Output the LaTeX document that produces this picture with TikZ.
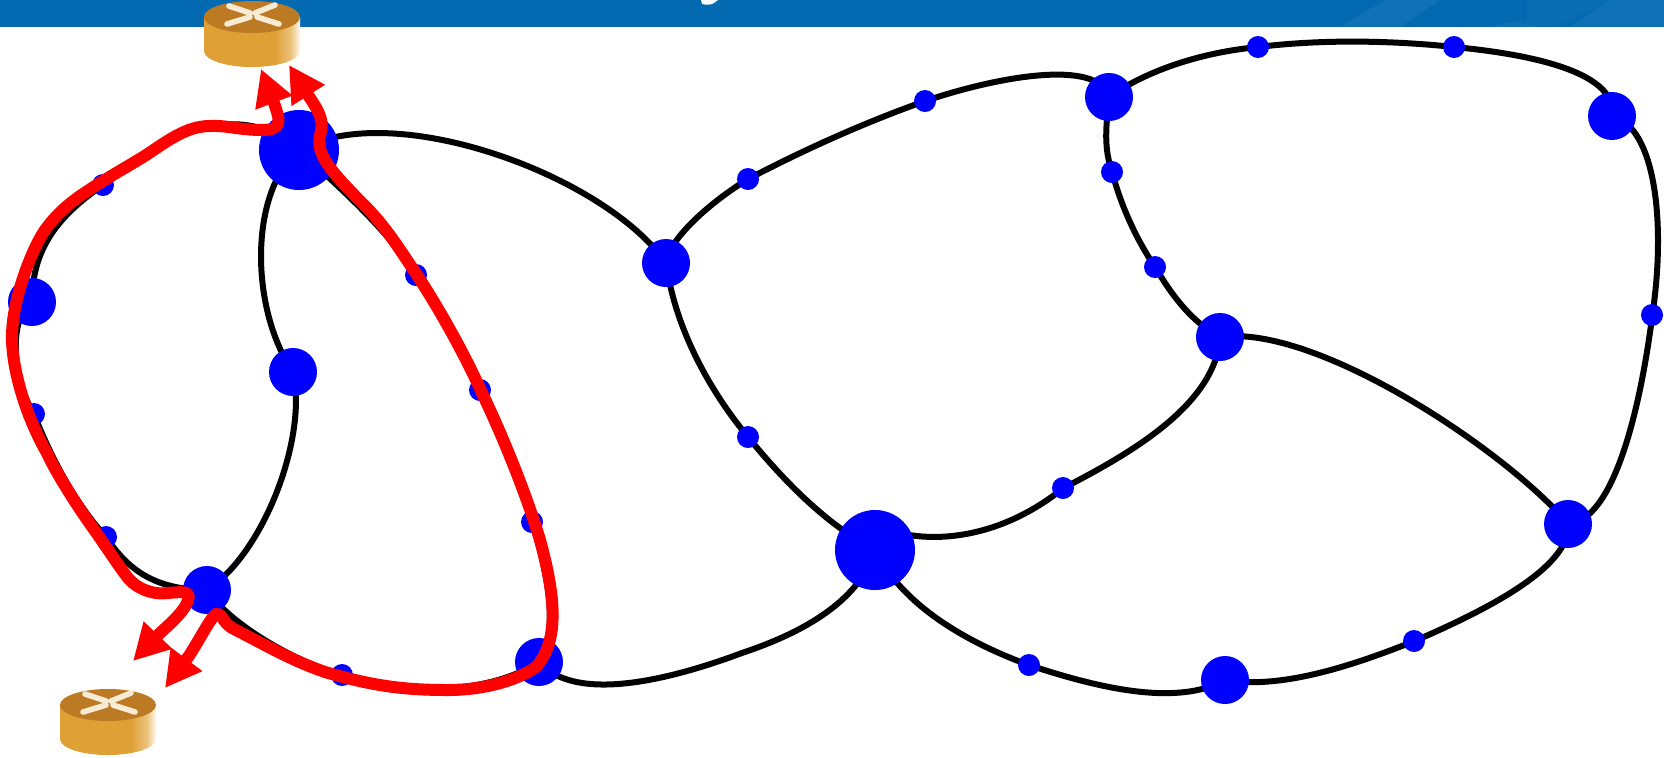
\documentclass[tikz,border=0pt]{standalone}
\usetikzlibrary{arrows.meta}
\definecolor{rside}{HTML}{DFA036}
\definecolor{rmid}{HTML}{EBC27A}
\definecolor{rlight}{HTML}{FFF9EC}
\definecolor{rtop}{HTML}{BC7A24}
\definecolor{rcream}{HTML}{F8EBD4}
\definecolor{band}{HTML}{0369B1}
\definecolor{streak}{HTML}{2F86C4}
\pgfdeclarehorizontalshading{routerside}{100bp}{color(0bp)=(rside); color(25bp)=(rside); color(50bp)=(rside); color(62bp)=(rside); color(70bp)=(rmid); color(75bp)=(rlight); color(80bp)=(rmid); color(85bp)=(rside); color(100bp)=(rside)}
\pgfdeclarelayer{linkslayer}
\pgfsetlayers{linkslayer,main}
\tikzset{
  big/.style={circle,fill=blue,inner sep=0pt,minimum size=40pt},
  mid/.style={circle,fill=blue,inner sep=0pt,minimum size=24pt},
  small/.style={circle,fill=blue,inner sep=0pt,minimum size=11pt},
  link/.style={draw=black,line width=3pt,line cap=round,line join=round},
  route/.style={draw=red,line width=6pt,line join=round,line cap=round,
    {Triangle[length=18pt,width=18.5pt]}-{Triangle[length=18pt,width=18.5pt]}},
  routericon/.pic={
    \path[shading=routerside] (-48,0) -- (-48,34) arc[start angle=180,end angle=0,x radius=48,y radius=16] -- (48,0) -- cycle;
    \fill[rtop] (0,0) ellipse[x radius=48,y radius=16];
    \draw[rcream,line width=2.8pt,line cap=round] (-23,-11) -- (-2,-4) (23,-12) -- (3,-4) (-25,7) -- (-2,0) (27,7) -- (5,0);
  }
}
\begin{document}
\begin{tikzpicture}[x=0.5pt,y=-0.5pt]
\useasboundingbox (0,0) rectangle (1664,757);
\begin{pgfonlayer}{linkslayer}
\fill[white] (0,0) rectangle (1664,757);
\fill[band] (0,0) rectangle (1664,27);
\begin{scope}
\clip (0,0) rectangle (1664,27);
\fill[streak,opacity=.3] (1340,27) -- (1385,0) -- (1440,0) -- (1400,27) -- cycle;
\fill[streak,opacity=.15] (1527,0) -- (1610,0) -- (1555,27) -- (1527,27) -- cycle;
\fill[streak,opacity=.3] (1610,0) -- (1664,0) -- (1664,27) -- (1570,27) -- cycle;
\fill[streak,opacity=.3] (1490,27) -- (1515,21) -- (1535,27) -- cycle;
\end{scope}
\fill[white] (701,0) -- (718,0) -- (714,3) .. controls (711,5) and (706,5) .. (702,4) -- cycle;
\end{pgfonlayer}
% routers
\pic (routerA) at (252,17) {routericon};
\pic (routerB) at (108,705) {routericon};
% nodes
\node[big] (A) at (299,150) {};
\node[mid] (B) at (32,302) {};
\node[mid] (C) at (293,372) {};
\node[mid] (D) at (207,590) {};
\node[mid] (E) at (539,662) {};
\node[mid] (F) at (666,263) {};
\node[big] (G) at (875,550) {};
\node[mid] (H) at (1109,97) {};
\node[mid] (I) at (1220,337) {};
\node[mid] (J) at (1612,116) {};
\node[mid] (K) at (1568,524) {};
\node[mid] (L) at (1225,680) {};
\node[small] (s1) at (103,185) {};
\node[small] (s2) at (34,414) {};
\node[small] (s3) at (106,537) {};
\node[small] (s4) at (416,275) {};
\node[small] (s5) at (480,390) {};
\node[small] (s6) at (532,522) {};
\node[small] (s7) at (342,675) {};
\node[small] (s8) at (748,179) {};
\node[small] (s9) at (925,101) {};
\node[small] (s10) at (748,437) {};
\node[small] (s11) at (1063,488) {};
\node[small] (s12) at (1112,172) {};
\node[small] (s13) at (1155,267) {};
\node[small] (s14) at (1258,47) {};
\node[small] (s15) at (1454,47) {};
\node[small] (s16) at (1652,315) {};
\node[small] (s17) at (1029,665) {};
\node[small] (s18) at (1414,641) {};
% links, behind the nodes
\begin{pgfonlayer}{linkslayer}
% links that run under the red routes
\draw[link] (B.center) .. controls (10,315) and (10,375) .. (s2.center);
\draw[link] (s2.center) .. controls (48,450) and (72,500) .. (s3.center);
\draw[link] (s3.center) .. controls (125,565) and (150,590) .. (D.center);
\draw[link] (A.center) .. controls (325,175) and (385,225) .. (s4.center);
\draw[link] (s4.center) .. controls (440,310) and (465,355) .. (s5.center);
\draw[link] (s5.center) .. controls (500,430) and (520,480) .. (s6.center);
\draw[link] (s6.center) .. controls (550,580) and (558,635) .. (E.center);
\draw[link] (D.center) .. controls (228,622) and (290,660) .. (s7.center);
\draw[link] (s7.center) .. controls (380,692) and (480,700) .. (E.center);
\begin{scope}[scale=1.0612]
\draw[link] (A.center) .. controls (370,92) and (570,165) .. (F.center);
\draw[link] (A.center) .. controls (235,180) and (235,290) .. (C.center);
\draw[link] (C.center) .. controls (290,410) and (250,520) .. (D.center);
\draw[link] (A.center) .. controls (230,95) and (160,120) .. (s1.center);
\draw[link] (s1.center) .. controls (60,200) and (30,230) .. (B.center);
\draw[link] (E.center) .. controls (540,660) and (620,645) .. (700,615) .. controls (760,595) and (810,565) .. (G.center);
\draw[link] (F.center) .. controls (636,310) and (670,370) .. (s10.center);
\draw[link] (s10.center) .. controls (740,455) and (780,495) .. (G.center);
\draw[link] (F.center) .. controls (630,225) and (670,190) .. (s8.center);
\draw[link] (s8.center) .. controls (750,145) and (810,117) .. (s9.center);
\draw[link] (s9.center) .. controls (940,72) and (1035,55) .. (H.center);
\draw[link] (H.center) .. controls (1042,120) and (1040,140) .. (s12.center);
\draw[link] (s12.center) .. controls (1055,190) and (1070,225) .. (s13.center);
\draw[link] (s13.center) .. controls (1105,280) and (1125,305) .. (I.center);
\draw[link] (H.center) .. controls (1075,70) and (1125,50) .. (s14.center);
\draw[link] (s14.center) .. controls (1245,37) and (1310,38) .. (s15.center);
\draw[link] (s15.center) .. controls (1430,50) and (1525,65) .. (J.center);
\draw[link] (J.center) .. controls (1560,120) and (1570,210) .. (s16.center);
\draw[link] (s16.center) .. controls (1545,390) and (1520,490) .. (K.center);
\draw[link] (I.center) .. controls (1240,305) and (1420,425) .. (K.center);
\draw[link] (I.center) .. controls (1145,380) and (1070,425) .. (s11.center);
\draw[link] (s11.center) .. controls (940,510) and (870,515) .. (825,495);
\draw[link] (G.center) .. controls (850,570) and (910,605) .. (s17.center);
\draw[link] (s17.center) .. controls (1040,650) and (1110,665) .. (L.center);
\draw[link] (L.center) .. controls (1210,650) and (1280,625) .. (s18.center);
\draw[link] (s18.center) .. controls (1400,575) and (1480,535) .. (K.center);
\end{scope}
\end{pgfonlayer}
% red routes
\coordinate (tipA1) at (261,69);
\coordinate (tipA2) at (289,65);
\coordinate (tipB1) at (133,661);
\coordinate (tipB2) at (165,688);
\draw[route] (tipA1) -- (274,103) .. controls (279,118) and (285,130) .. (262,130)
  .. controls (240,130) and (225,125) .. (210,126)
  .. controls (185,126) and (165,143) .. (143,157)
  .. controls (125,168) and (107,178) .. (89,190)
  .. controls (72,201) and (58,212) .. (45,230)
  .. controls (33,247) and (11,300) .. (12,340)
  .. controls (13,375) and (28,420) .. (47,453)
  .. controls (57,475) and (80,510) .. (93,528)
  .. controls (103,542) and (118,565) .. (128,578)
  .. controls (138,590) and (155,595) .. (168,593)
  .. controls (180,592) and (192,590) .. (188,600)
  .. controls (185,612) and (165,628) .. (158,635) -- (tipB1);
\draw[route] (tipA2) -- (308,95) .. controls (318,110) and (325,120) .. (320,135)
  .. controls (316,155) and (330,170) .. (362,203)
  .. controls (385,225) and (400,250) .. (417,275)
  .. controls (440,310) and (465,355) .. (482,393)
  .. controls (500,430) and (525,490) .. (540,540)
  .. controls (555,595) and (560,640) .. (536,667)
  .. controls (515,682) and (480,690) .. (448,690)
  .. controls (400,690) and (370,685) .. (325,672)
  .. controls (290,660) and (260,642) .. (232,628)
  .. controls (222,622) and (222,612) .. (216,614)
  .. controls (210,618) and (197,645) .. (186,660) -- (tipB2);
\end{tikzpicture}
\end{document}
